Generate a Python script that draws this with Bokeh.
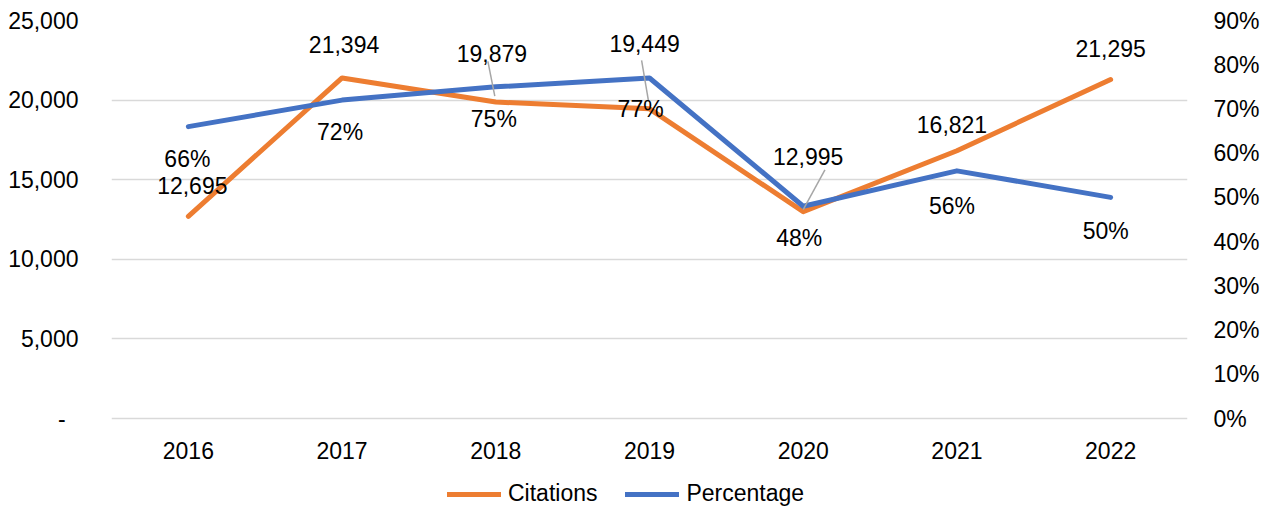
from bokeh.plotting import figure
from bokeh.models import (Range1d, FactorRange, LinearAxis, CategoricalAxis, FixedTicker,
                          NumeralTickFormatter, ColumnDataSource, Legend, LegendItem)
from bokeh.core.properties import value
from bokeh.embed import file_html
from bokeh.resources import INLINE

years = ["2016", "2017", "2018", "2019", "2020", "2021", "2022"]
citations = [12695, 21394, 19879, 19449, 12995, 16821, 21295]
percentage = [0.66, 0.72, 0.75, 0.77, 0.48, 0.56, 0.50]
citation_labels = ["12,695", "21,394", "19,879", "19,449", "12,995", "16,821", "21,295"]
percentage_labels = ["66%", "72%", "75%", "77%", "48%", "56%", "50%"]
left_ticks = [0, 5000, 10000, 15000, 20000, 25000]
right_ticks = [0.0, 0.1, 0.2, 0.3, 0.4, 0.5, 0.6, 0.7, 0.8, 0.9]

# figure fits the 1280x524 window minus the 8px page margin
W, H = 1264, 508
SX, SY = W / 1280, H / 524

# label offsets in reference pixels (dx right, dy down)
cit_dx = [4, 2, -4, -5, 5, -5, 0]
cit_dy = [-32, -34, -50, -67, -57, -27, -32]
pct_dx = [-1, -2, -2, -9, -4, -5, -5]
pct_dy = [33, 33, 33, 32, 33, 36, 35]

# leader lines (reference px offsets from the citation point): start and end
lead_idx = [2, 3, 4]
lead_x0 = [-8, -8, 22]
lead_y0 = [-42, -50, -43]
lead_x1 = [-1, -1, 0]
lead_y1 = [-6, -8, -2]

FONT = "Liberation Sans"
FS = "23px"
ORANGE = "#ED7D31"
BLUE = "#4472C4"

B_LEFT = round(112 * SX)
B_RIGHT = round(78 * SX)
B_TOP = round(21 * SY)
GAP_BOTTOM = round(93 * SY)          # space below the zero line (x labels + legend)
FRAME_W = W - B_LEFT - B_RIGHT
PLOT_H = H - B_TOP - GAP_BOTTOM      # height of the gridded value area
YMAX = 25000
PMAX = 0.9
YLOW = -GAP_BOTTOM * YMAX / PLOT_H
PLOW = -GAP_BOTTOM * PMAX / PLOT_H

p = figure(width=W, height=H, x_range=FactorRange(*years, range_padding=0),
           y_range=Range1d(YLOW, YMAX), output_backend="svg", toolbar_location=None,
           x_axis_location=None,
           min_border_left=B_LEFT, min_border_right=B_RIGHT,
           min_border_top=B_TOP, min_border_bottom=0)
p.extra_y_ranges = {"pct": Range1d(PLOW, PMAX)}
p.outline_line_color = None
p.background_fill_color = "white"
p.border_fill_color = "white"

# x axis drawn at the zero line
xa = CategoricalAxis(fixed_location=0)
p.add_layout(xa, "below")

# axes
p.yaxis.ticker = FixedTicker(ticks=left_ticks)
p.yaxis.formatter = NumeralTickFormatter(format="0,0")
p.yaxis.major_label_overrides = {0: "-\u00a0\u00a0"}
for ax in [p.yaxis[0], xa]:
    ax.axis_line_color = None
    ax.major_tick_line_color = None
    ax.minor_tick_line_color = None
    ax.major_label_text_font = FONT
    ax.major_label_text_font_size = FS
    ax.major_label_text_color = "black"
p.yaxis.major_label_standoff = 27
xa.major_label_standoff = 17

ry = LinearAxis(y_range_name="pct", ticker=FixedTicker(ticks=right_ticks),
                formatter=NumeralTickFormatter(format="0%"))
ry.axis_line_color = None
ry.major_tick_line_color = None
ry.minor_tick_line_color = None
ry.major_label_text_font = FONT
ry.major_label_text_font_size = FS
ry.major_label_text_color = "black"
ry.major_label_standoff = 20
p.add_layout(ry, "right")

p.xgrid.grid_line_color = None
p.ygrid.ticker = FixedTicker(ticks=left_ticks)
p.ygrid.grid_line_color = "#D9D9D9"
p.ygrid.grid_line_width = 1.5

src = ColumnDataSource(dict(x=years, c=citations, pc=percentage,
                            cl=citation_labels, pl=percentage_labels,
                            cdx=[d * SX for d in cit_dx], cdy=[d * SY for d in cit_dy],
                            pdx=[d * SX for d in pct_dx], pdy=[d * SY for d in pct_dy]))

r_c = p.line("x", "c", source=src, line_color=ORANGE, line_width=5, line_join="round", line_cap="round")
r_p = p.line("x", "pc", source=src, y_range_name="pct", line_color=BLUE, line_width=5,
             line_join="round", line_cap="round")

# leader lines
ypp = YMAX / PLOT_H
xpp = 1.0 / (FRAME_W / len(years))
lx0, ly0, lx1, ly1 = [], [], [], []
for k, i in enumerate(lead_idx):
    lx0.append((years[i], lead_x0[k] * SX * xpp))
    ly0.append(citations[i] - lead_y0[k] * SY * ypp)
    lx1.append((years[i], lead_x1[k] * SX * xpp))
    ly1.append(citations[i] - lead_y1[k] * SY * ypp)
p.segment(x0=lx0, y0=ly0, x1=lx1, y1=ly1, line_color="#A6A6A6", line_width=1.5)

p.text("x", "c", text="cl", source=src, x_offset="cdx", y_offset="cdy",
       text_align="center", text_baseline="middle", text_font=value(FONT),
       text_font_size=FS, text_color="black")
p.text("x", "pc", text="pl", source=src, y_range_name="pct", x_offset="pdx", y_offset="pdy",
       text_align="center", text_baseline="middle", text_font=value(FONT),
       text_font_size=FS, text_color="black")

legend = Legend(items=[LegendItem(label="Citations", renderers=[r_c]),
                       LegendItem(label="Percentage", renderers=[r_p])],
                orientation="horizontal", location=(336, 1),
                glyph_width=54, glyph_height=20, label_standoff=7, spacing=28,
                padding=0, margin=0, border_line_color=None, background_fill_alpha=0,
                label_text_font=FONT, label_text_font_size=FS, label_text_color="black")
p.add_layout(legend, "center")

open("out.html", "w").write(file_html(p, INLINE))
